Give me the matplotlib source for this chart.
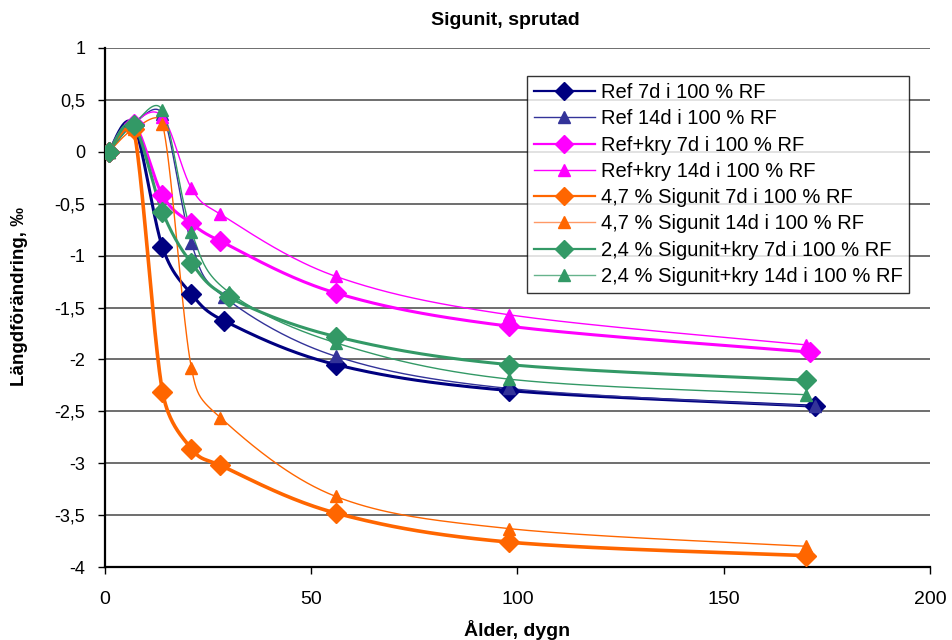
import numpy as np
import matplotlib
matplotlib.use("Agg")
import matplotlib.pyplot as plt
from matplotlib.ticker import FuncFormatter, MultipleLocator

plt.rcParams['font.family'] = ['Liberation Sans', 'DejaVu Sans']

# Age in days and length change (per mille) for each series
x_ref7 = [1, 7, 14, 21, 29, 56, 98, 172]
ref7 = [0, 0.26, -0.92, -1.37, -1.63, -2.05, -2.30, -2.45]

x_ref14 = [1, 7, 14, 21, 29, 56, 98, 172]
ref14 = [0, 0.27, 0.36, -0.88, -1.40, -1.97, -2.28, -2.45]

x_kry7 = [1, 7, 14, 21, 28, 56, 98, 171]
kry7 = [0, 0.27, -0.42, -0.69, -0.86, -1.36, -1.68, -1.93]

x_kry14 = [1, 7, 14, 21, 28, 56, 98, 170]
kry14 = [0, 0.28, 0.34, -0.35, -0.60, -1.20, -1.57, -1.86]

x_sig7 = [1, 7, 14, 21, 28, 56, 98, 170]
sig7 = [0, 0.22, -2.31, -2.86, -3.02, -3.48, -3.76, -3.89]

x_sig14 = [1, 7, 14, 21, 28, 56, 98, 170]
sig14 = [0, 0.22, 0.27, -2.08, -2.56, -3.32, -3.63, -3.80]

x_sk7 = [1, 7, 14, 21, 30, 56, 98, 170]
sk7 = [0, 0.26, -0.58, -1.07, -1.40, -1.78, -2.05, -2.20]

x_sk14 = [1, 7, 14, 21, 30, 56, 98, 170]
sk14 = [0, 0.27, 0.40, -0.77, -1.35, -1.84, -2.19, -2.34]

labels = [
    "Ref 7d i 100 % RF",
    "Ref 14d i 100 % RF",
    "Ref+kry 7d i 100 % RF",
    "Ref+kry 14d i 100 % RF",
    "4,7 % Sigunit 7d i 100 % RF",
    "4,7 % Sigunit 14d i 100 % RF",
    "2,4 % Sigunit+kry 7d i 100 % RF",
    "2,4 % Sigunit+kry 14d i 100 % RF",
]

# (x, y, colour, marker, line width, marker size)
series = [
    (x_ref7, ref7, "#000080", "D", 2.2, 10),
    (x_ref14, ref14, "#333399", "^", 1.0, 8),
    (x_kry7, kry7, "#FF00FF", "D", 2.2, 10),
    (x_kry14, kry14, "#FF00FF", "^", 1.0, 8),
    (x_sig7, sig7, "#FF6600", "D", 2.6, 10),
    (x_sig14, sig14, "#FF6600", "^", 1.0, 8),
    (x_sk7, sk7, "#339966", "D", 2.2, 10),
    (x_sk14, sk14, "#339966", "^", 1.0, 8),
]
legend_line = ["#000080", "#333399", "#FF00FF", "#FF00FF",
               "#FF6600", "#FF9966", "#339966", "#66B38C"]

fig = plt.figure(figsize=(9.52, 6.4), dpi=100)
ax = fig.add_axes([0.110, 0.114, 0.867, 0.811])
ax.set_xlim(0, 200)
ax.set_ylim(-4, 1)


def smooth(ax, xs, ys, n=40):
    """Bezier smoothing through the points in display space; tangent length is
    a sixth of the neighbour chord, capped at half of the segment length."""
    pts = ax.transData.transform(np.column_stack([xs, ys]))
    p = np.vstack([pts[0], pts, pts[-1]])
    out = [pts[0]]
    t = np.linspace(0, 1, n)[1:, None]

    def ctrl(a, b, seg):
        v = b - a
        L = np.hypot(*v)
        if L == 0:
            return np.zeros(2)
        k = min(L / 6.0, seg / 2.0)
        return v / L * k

    for i in range(1, len(p) - 2):
        p0, p1, p2, p3 = p[i - 1], p[i], p[i + 1], p[i + 2]
        seg = np.hypot(*(p2 - p1))
        c1 = p1 + ctrl(p0, p2, seg)
        c2 = p2 - ctrl(p1, p3, seg)
        b = ((1 - t) ** 3) * p1 + 3 * ((1 - t) ** 2) * t * c1 \
            + 3 * (1 - t) * t ** 2 * c2 + t ** 3 * p2
        out.extend(b)
    out = np.array(out)
    d = ax.transData.inverted().transform(out)
    return d[:, 0], d[:, 1]


handles = []
for (xs, ys, col, mk, lw, ms), lab, lcol in zip(series, labels, legend_line):
    sx, sy = smooth(ax, xs, ys)
    ax.plot(sx, sy, color=col, lw=lw, zorder=3, solid_capstyle='round')
    ax.plot(xs, ys, ls='none', marker=mk, color=col, markersize=ms, zorder=4)
    h, = ax.plot([], [], color=lcol, lw=1.6 if mk == "D" else 1.0,
                 marker=mk, markersize=9 if mk == "D" else 8,
                 markerfacecolor=col, markeredgecolor=col, label=lab)
    handles.append(h)

ax.yaxis.set_major_locator(MultipleLocator(0.5))
ax.xaxis.set_major_locator(MultipleLocator(50))
ax.yaxis.set_major_formatter(FuncFormatter(lambda v, p: ("%g" % v).replace(".", ",")))
ax.grid(axis='y', color='#555555', lw=1.2, zorder=1)
for s in ['top', 'right']:
    ax.spines[s].set_visible(False)
for s in ['left', 'bottom']:
    ax.spines[s].set_linewidth(1.6)
    ax.spines[s].set_color('black')
ax.tick_params(axis='y', labelsize=13, direction='out', length=5, width=1, pad=9)
ax.tick_params(axis='x', labelsize=14, direction='out', length=5, width=1, pad=12)

fig.text(0.531, 0.968, "Sigunit, sprutad", fontsize=14, fontweight='bold',
         ha='center', va='center')
fig.text(0.543, 0.007, "Ålder, dygn", fontsize=14, fontweight='bold',
         ha='center', va='baseline')
fig.text(0.021, 1 - 297 / 640, "Längdförändring, ‰", fontsize=13.5, fontweight='bold',
         ha='center', va='center', rotation=90)

leg = ax.legend(handles=handles, loc='upper right', bbox_to_anchor=(0.975, 0.946),
                fontsize=14.5, frameon=True, fancybox=False, edgecolor='black',
                handlelength=3.0, labelspacing=0.36, borderpad=0.35,
                handletextpad=0.3, borderaxespad=0)
leg.get_frame().set_linewidth(1.0)
leg.set_zorder(5)

fig.savefig("out.png", dpi=100)
